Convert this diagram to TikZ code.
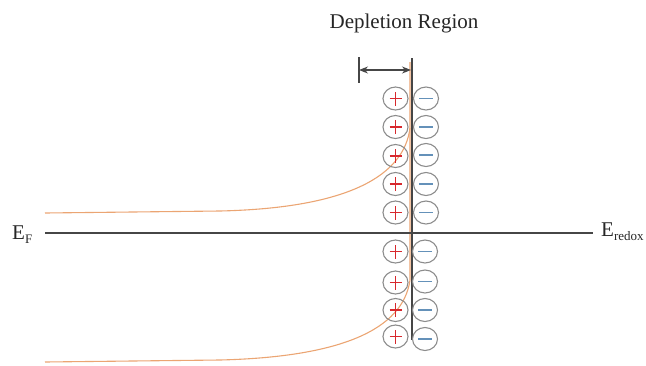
\documentclass[tikz,border=0pt]{standalone}
\usepackage{fontspec}
\setmainfont{Liberation Serif}
\usetikzlibrary{shapes.geometric,arrows.meta}
\definecolor{ionring}{RGB}{140,140,140}
\definecolor{pluscol}{RGB}{215,40,45}
\definecolor{minuscol}{RGB}{100,145,185}
\definecolor{bandcol}{RGB}{235,165,115}
\definecolor{axiscol}{RGB}{70,70,70}
\newcommand{\subtxt}[1]{\raisebox{-4pt}{\fontsize{13}{14}\selectfont #1}}
\tikzset{
  ion/.style={ellipse, draw=ionring, line width=1.1pt, minimum width=25pt, minimum height=23pt, inner sep=0pt},
  plusion/.style={ion},
  minusion/.style={ion},
  plussign/.style={draw=pluscol, line width=1.2pt},
  minussign/.style={draw=minuscol, line width=1.2pt},
  band/.style={draw=bandcol, line width=1.1pt},
  axisline/.style={draw=axiscol, line width=1.6pt},
  lbl/.style={font=\fontsize{21}{24}\selectfont, inner sep=0pt, text=black!85}
}
\begin{document}
\begin{tikzpicture}[x=1pt,y=-1pt]
\useasboundingbox (0,0) rectangle (646,365);
% coordinates
\coordinate (vtop) at (412,58);
\coordinate (vbot) at (412,340);
\coordinate (tick1) at (359,57);
\coordinate (tick2) at (359,83);
\coordinate (arrL) at (359,70);
\coordinate (arrR) at (411,70);
\coordinate (efL) at (45,233);
\coordinate (efR) at (593,233);
% orange bands
\draw[band] (45,213) -- (220,211) .. controls (350,208) and (404,175) .. (410,128) -- (410,62);
\draw[band] (45,362) -- (220,360) .. controls (340,357) and (403,330) .. (410,280) -- (410,128);
% Fermi level
\draw[axisline] (efL) -- (efR);
% interface line
\draw[axisline] (vtop) -- (vbot);
% depletion width arrow
\draw[axiscol, line width=1.2pt] (tick1) -- (tick2);
\draw[axiscol, line width=1.2pt, {Stealth[length=9pt,width=7pt]}-{Stealth[length=9pt,width=7pt]}] (arrL) -- (arrR);
% ions
\node[plusion] (p1) at (395.5,98.5) {};
\node[plusion] (p2) at (395.5,127) {};
\node[plusion] (p3) at (395.5,156) {};
\node[plusion] (p4) at (395.5,184) {};
\node[plusion] (p5) at (395.5,212.5) {};
\node[plusion] (p6) at (395.5,251.5) {};
\node[plusion] (p7) at (395.5,282.5) {};
\node[plusion] (p8) at (395.5,310) {};
\node[plusion] (p9) at (395.5,336.5) {};
\node[minusion] (m1) at (426,98.5) {};
\node[minusion] (m2) at (426,127) {};
\node[minusion] (m3) at (426,155) {};
\node[minusion] (m4) at (426,184) {};
\node[minusion] (m5) at (426,212.5) {};
\node[minusion] (m6) at (425,251.5) {};
\node[minusion] (m7) at (425,281.5) {};
\node[minusion] (m8) at (425,310) {};
\node[minusion] (m9) at (425,339) {};
\foreach \n in {p1,p2,p3,p4,p5,p6,p7,p8,p9}{
  \draw[plussign] ([xshift=-6pt]\n.center) -- ([xshift=6pt]\n.center);
  \draw[plussign] ([yshift=-7pt]\n.center) -- ([yshift=7pt]\n.center);
}
\foreach \n in {m1,m2,m3,m4,m5,m6,m7,m8,m9}{
  \draw[minussign] ([xshift=-7pt]\n.center) -- ([xshift=7pt]\n.center);
}
% labels
\node[lbl, anchor=base] (title) at (404,28) {Depletion Region};
\node[lbl, anchor=base west] (ef) at (12,239) {E\subtxt{F}};
\node[lbl, anchor=base west] (eredox) at (601,236) {E\subtxt{redox}};
\end{tikzpicture}
\end{document}
